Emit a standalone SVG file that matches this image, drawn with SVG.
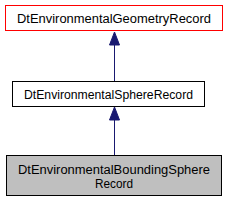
<svg xmlns="http://www.w3.org/2000/svg" width="229" height="203" viewBox="0 0 229 203">
<style>
text{font-family:"Liberation Sans",Arial,sans-serif;font-size:12.5px;text-anchor:middle;fill:#000}
.box{fill:#fff;stroke:#000;stroke-width:1}
.edge{stroke:#191970;stroke-width:1;fill:none}
.head{fill:#191970;stroke:#191970}
</style>
<g id="node1">
<rect x="5.5" y="5.5" width="217" height="25" fill="#fff" stroke="#ff0000"/>
<text x="114" y="22.5" textLength="194" lengthAdjust="spacingAndGlyphs">DtEnvironmentalGeometryRecord</text>
</g>
<g id="node2">
<rect class="box" x="12.5" y="81.5" width="192" height="25"/>
<text x="108.5" y="98.5" textLength="169" lengthAdjust="spacingAndGlyphs">DtEnvironmentalSphereRecord</text>
</g>
<g id="node3">
<rect x="6.5" y="155.5" width="215" height="40" fill="#bfbfbf" stroke="#000"/>
<text x="114" y="173.5" textLength="192" lengthAdjust="spacingAndGlyphs">DtEnvironmentalBoundingSphere</text>
<text x="114" y="188" textLength="38" lengthAdjust="spacingAndGlyphs">Record</text>
</g>
<g id="edges">
<line class="edge" x1="114.5" y1="81" x2="114.5" y2="44"/>
<path class="head" d="M114.5,32 L119.5,45 L109.5,45 Z"/>
<line class="edge" x1="114.5" y1="155" x2="114.5" y2="119"/>
<path class="head" d="M114.5,107 L119.5,120 L109.5,120 Z"/>
</g>
</svg>
